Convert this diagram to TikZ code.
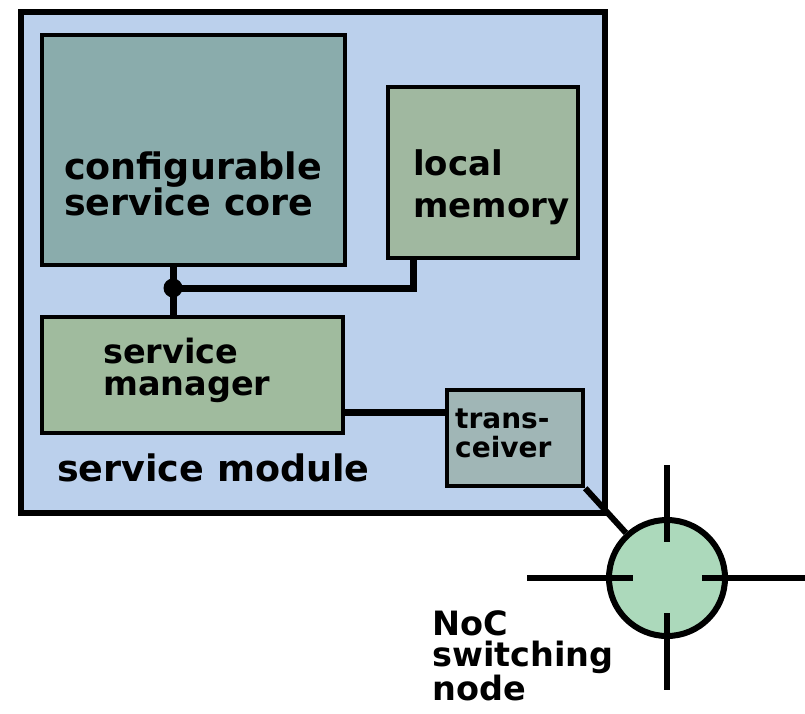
\documentclass[tikz,border=0pt]{standalone}
\usepackage{fontspec}
\newfontfamily\lbl{DejaVu Sans Bold}
\definecolor{modfill}{HTML}{BBD0EC}
\definecolor{corefill}{HTML}{8AACAC}
\definecolor{memfill}{HTML}{A0B8A0}
\definecolor{mgrfill}{HTML}{A0BB9E}
\definecolor{trfill}{HTML}{A0B6B6}
\definecolor{swfill}{HTML}{ACD9BB}
\begin{document}
\begin{tikzpicture}[x=1pt,y=-1pt,
  box/.style={draw=black, line width=4.5pt, rectangle, inner sep=0pt},
  conn/.style={draw=black, line width=7pt},
  thin/.style={draw=black, line width=6pt},
  lbl/.style={inner sep=0pt, anchor=base west, align=left}]
\useasboundingbox (0,0) rectangle (805,713);
% outer module
\node[box, line width=6pt, fill=modfill, minimum width=584pt, minimum height=501pt] (mod) at (313,262.5) {};
\node[box, fill=corefill, minimum width=303pt, minimum height=230pt] (core) at (193.5,150) {};
\node[box, fill=memfill, minimum width=190pt, minimum height=171pt] (lm) at (483,172.5) {};
\node[box, fill=mgrfill, minimum width=301pt, minimum height=116pt] (sm) at (192.5,375) {};
\node[box, fill=trfill, minimum width=136pt, minimum height=96pt] (tr) at (515,438) {};
% labels (anchor = baseline of last line)
\node[lbl, font=\lbl\fontsize{36.5}{36}\selectfont] (tcore) at (64,215) {configurable\\service core};
\node[lbl, font=\lbl\fontsize{34}{42}\selectfont] (tlm) at (413,217) {local\\memory};
\node[lbl, font=\lbl\fontsize{33.5}{32}\selectfont] (tsm) at (103,395) {service\\manager};
\node[lbl, font=\lbl\fontsize{28}{29}\selectfont] (ttr) at (455,457) {trans-\\ceiver};
\node[lbl, font=\lbl\fontsize{36.5}{36}\selectfont] (tmod) at (57,481) {service module};
% connectors
\coordinate (j) at (173,288);
\coordinate (k) at (413,288);
\coordinate (m) at (0,412);
\draw[conn] (core.south -| j) -- (sm.north -| j);
\draw[conn] (j) -- (k) -- (k |- lm.south);
\fill (j) circle (9.5pt);
\draw[conn] (sm.east |- m) -- (tr.west |- m);
% switching node
\node[circle, draw=black, line width=6pt, fill=swfill, minimum size=116pt, inner sep=0pt] (sw) at (667,578) {};
\draw[thin] (tr.south east) -- (sw);
\coordinate (ct1) at (667,465); \coordinate (ct2) at (667,542);
\coordinate (cb1) at (667,613); \coordinate (cb2) at (667,690);
\coordinate (cl1) at (527,578); \coordinate (cl2) at (633,578);
\coordinate (cr1) at (702,578); \coordinate (cr2) at (805,578);
\draw[thin] (ct1) -- (ct2);
\draw[thin] (cb1) -- (cb2);
\draw[thin] (cl1) -- (cl2);
\draw[thin] (cr1) -- (cr2);
\node[lbl, font=\lbl\fontsize{33.5}{31}\selectfont] (tnoc) at (432,700) {NoC\\switching\\node};
\end{tikzpicture}
\end{document}
